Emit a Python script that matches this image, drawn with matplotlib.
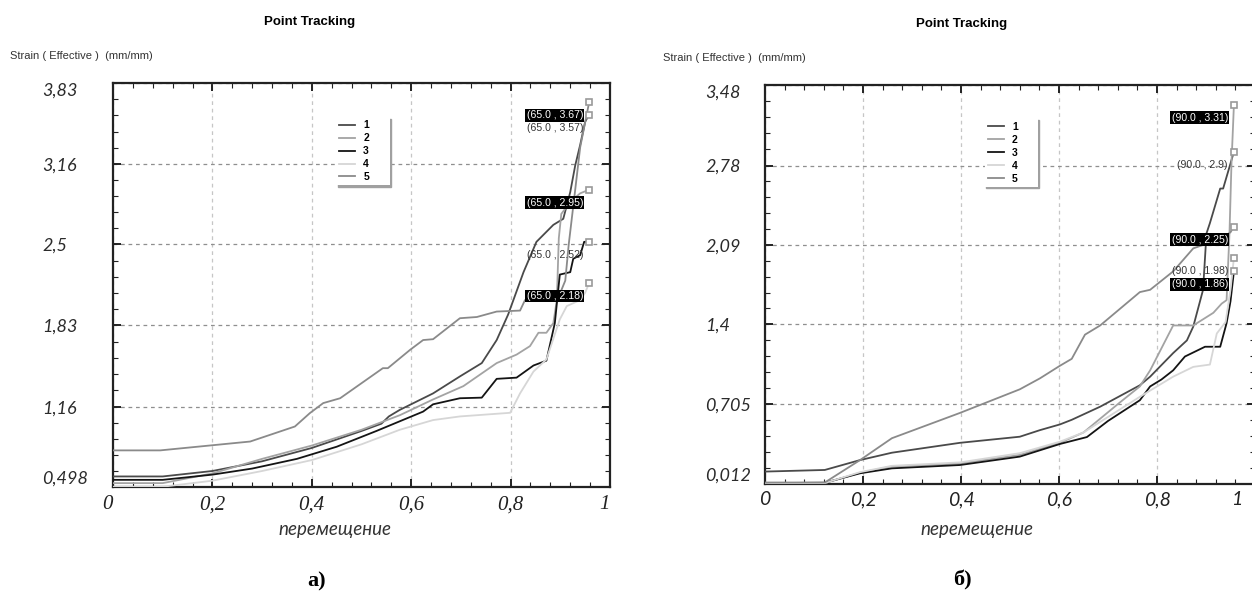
import matplotlib
matplotlib.use("Agg")
import matplotlib.pyplot as plt
import numpy as np

# shared axis labels
SERIES = ["1", "2", "3", "4", "5"]
COLORS = ["#4a4a4a", "#a3a3a3", "#141414", "#d6d6d6", "#8a8a8a"]
X_TICKS = [0, 0.2, 0.4, 0.6, 0.8, 1.0]
X_LABELS = ["0", "0,2", "0,4", "0,6", "0,8", "1"]

# panel а)
A_END = "65.0"
A_YTICKS = [0.498, 1.16, 1.83, 2.5, 3.16, 3.83]
A_YLABELS = ["0,498", "1,16", "1,83", "2,5", "3,16", "3,83"]
a1_x = [0, 0.10, 0.20, 0.30, 0.40, 0.50, 0.54, 0.555, 0.577, 0.644, 0.698, 0.742, 0.772,
        0.795, 0.826, 0.852, 0.886, 0.906, 0.92, 0.93, 0.94, 0.95, 0.958]
a1_y = [0.585, 0.585, 0.63, 0.71, 0.82, 0.96, 1.02, 1.08, 1.134, 1.27, 1.41, 1.52, 1.71,
        1.92, 2.27, 2.52, 2.66, 2.71, 2.93, 3.15, 3.32, 3.51, 3.57]
a2_x = [0, 0.10, 0.20, 0.30, 0.40, 0.50, 0.577, 0.644, 0.705, 0.772, 0.812, 0.839, 0.856,
        0.872, 0.886, 0.893, 0.897, 0.902, 0.92, 0.94, 0.958]
a2_y = [0.53, 0.53, 0.61, 0.73, 0.84, 0.97, 1.09, 1.22, 1.33, 1.52, 1.59, 1.66, 1.77,
        1.77, 1.85, 2.04, 2.55, 2.75, 2.85, 2.92, 2.95]
a3_x = [0, 0.10, 0.20, 0.28, 0.37, 0.45, 0.53, 0.577, 0.624, 0.644, 0.698, 0.742, 0.772,
        0.812, 0.846, 0.872, 0.889, 0.899, 0.92, 0.926, 0.94, 0.948, 0.958]
a3_y = [0.557, 0.557, 0.60, 0.65, 0.73, 0.83, 0.96, 1.04, 1.12, 1.18, 1.23, 1.235, 1.39,
        1.40, 1.50, 1.54, 1.85, 2.25, 2.27, 2.38, 2.41, 2.52, 2.52]
a4_x = [0, 0.10, 0.20, 0.30, 0.40, 0.50, 0.577, 0.644, 0.698, 0.799, 0.819, 0.846, 0.872,
        0.899, 0.913, 0.94, 0.95, 0.958]
a4_y = [0.50, 0.50, 0.55, 0.63, 0.72, 0.85, 0.97, 1.05, 1.08, 1.11, 1.27, 1.45, 1.55,
        1.88, 1.99, 2.04, 2.10, 2.18]
a5_x = [0, 0.095, 0.276, 0.366, 0.396, 0.423, 0.457, 0.543, 0.553, 0.598, 0.624, 0.644,
        0.698, 0.732, 0.772, 0.819, 0.829, 0.86, 0.90, 0.91, 0.917, 0.93, 0.94, 0.958]
a5_y = [0.80, 0.80, 0.873, 0.997, 1.107, 1.19, 1.23, 1.478, 1.478, 1.63, 1.71, 1.717,
        1.89, 1.90, 1.945, 1.953, 2.04, 2.07, 2.10, 2.20, 2.50, 2.95, 3.30, 3.67]

# panel б)
B_END = "90.0"
B_YTICKS = [0.012, 0.705, 1.4, 2.09, 2.78, 3.48]
B_YLABELS = ["0,012", "0,705", "1,4", "2,09", "2,78", "3,48"]
b1_x = [0, 0.122, 0.194, 0.259, 0.398, 0.52, 0.561, 0.602, 0.626, 0.684, 0.765, 0.786,
        0.833, 0.861, 0.874, 0.894, 0.901, 0.908, 0.929, 0.935, 0.957]
b1_y = [0.12, 0.134, 0.22, 0.284, 0.37, 0.423, 0.48, 0.53, 0.57, 0.684, 0.87, 0.945,
        1.15, 1.26, 1.38, 1.70, 2.19, 2.28, 2.58, 2.58, 2.90]
b2_x = [0, 0.122, 0.194, 0.259, 0.398, 0.52, 0.602, 0.65, 0.724, 0.765, 0.786, 0.833,
        0.874, 0.915, 0.932, 0.942, 0.948, 0.952, 0.957]
b2_y = [0.012, 0.02, 0.11, 0.165, 0.19, 0.265, 0.37, 0.46, 0.72, 0.86, 1.0, 1.39,
        1.39, 1.50, 1.58, 1.61, 2.2, 2.8, 3.31]
b3_x = [0, 0.122, 0.194, 0.259, 0.398, 0.52, 0.602, 0.657, 0.70, 0.765, 0.786, 0.809,
        0.833, 0.857, 0.898, 0.929, 0.942, 0.95, 0.957]
b3_y = [0.02, 0.023, 0.105, 0.148, 0.177, 0.25, 0.36, 0.42, 0.56, 0.74, 0.86, 0.92,
        1.0, 1.12, 1.205, 1.205, 1.41, 1.6, 1.86]
b4_x = [0, 0.122, 0.194, 0.259, 0.398, 0.52, 0.602, 0.65, 0.765, 0.833, 0.874, 0.908,
        0.922, 0.94, 0.95, 0.957]
b4_y = [0.012, 0.02, 0.115, 0.17, 0.20, 0.28, 0.38, 0.46, 0.77, 0.945, 1.03, 1.05,
        1.32, 1.42, 1.7, 1.98]
b5_x = [0, 0.122, 0.194, 0.259, 0.398, 0.52, 0.561, 0.602, 0.626, 0.653, 0.684, 0.765,
        0.786, 0.833, 0.874, 0.901, 0.93, 0.95, 0.957]
b5_y = [0.025, 0.025, 0.22, 0.41, 0.63, 0.835, 0.93, 1.04, 1.10, 1.31, 1.39, 1.68,
        1.70, 1.86, 2.06, 2.10, 2.14, 2.20, 2.25]

SANS_I = "Lato"


def minor_between(vals):
    out = []
    for a, b in zip(vals[:-1], vals[1:]):
        out.extend(np.linspace(a, b, 6)[1:-1])
    return out


def draw_panel(ax, xs, ys, yticks, ylabels, end_x, cfg):
    for x, y, c, lab in zip(xs, ys, COLORS, SERIES):
        ax.plot(x, y, color=c, lw=1.3, label=lab, zorder=3)
        ax.plot(x[-1], y[-1], marker="s", ms=4.8, mfc="white", mec="#9a9a9a", mew=1.2,
                ls="none", zorder=4, clip_on=False)

    # end-point labels, boxed / plain alternating from the top down
    ends = sorted(((y[-1], x[-1]) for x, y in zip(xs, ys)), reverse=True)
    for i, (yv, xv) in enumerate(ends):
        txt = f"({end_x} , {yv:g})"
        if i % 2 == 0:
            ax.annotate(txt, (xv, yv), xytext=(-6, -13), textcoords="offset pixels",
                        ha="right", va="center", fontsize=7.6, color="white",
                        family="Liberation Sans", zorder=6,
                        bbox=dict(boxstyle="square,pad=0.12", fc="black", ec="none"))
        else:
            ax.annotate(txt, (xv, yv), xytext=(-6, -13), textcoords="offset pixels",
                        ha="right", va="center", fontsize=7.6, color="#333333",
                        family="Liberation Sans", zorder=6)

    ax.set_xlim(0, 1)
    ax.set_ylim(yticks[0], yticks[-1])
    ax.set_xticks(X_TICKS)
    ax.set_xticks(minor_between(X_TICKS), minor=True)
    ax.set_yticks(yticks)
    ax.set_yticks(minor_between(yticks), minor=True)

    ax.grid(axis="y", which="major", ls=(0, (3, 3)), color="#8f8f8f", lw=0.9, zorder=1)
    ax.grid(axis="x", which="major", ls=(0, (3, 3)), color="#c6c6c6", lw=0.9, zorder=1)

    ax.tick_params(which="both", direction="in", top=True, right=True, colors="#222222")
    ax.tick_params(which="major", length=6, width=1.4)
    ax.tick_params(which="minor", length=3.5, width=0.8)
    ax.tick_params(axis="y", pad=cfg["ypad"])
    ax.tick_params(axis="x", pad=cfg["xpad"])
    for s in ax.spines.values():
        s.set_linewidth(1.6)
        s.set_color("#222222")

    ax.set_yticklabels(ylabels, family=SANS_I, style="italic", fontsize=13, color="#2b2b2b")
    ylabs = ax.get_yticklabels()
    for t in ylabs:
        t.set_ha("left")
    ylabs[0].set_va("bottom")
    ylabs[-1].set_va("top")

    xfont = dict(family=cfg["xfont"], style="italic", fontsize=cfg["xsize"], color="#222222")
    labels = list(X_LABELS)
    if cfg["last_inside"]:
        # the panel runs past the picture edge: pull the last label inside it
        labels[-1] = ""
        ax.annotate(X_LABELS[-1], (1, 0), xycoords="axes fraction", xytext=(-9, -cfg["xpad"]),
                    textcoords="offset points", ha="right", va="top", **xfont)
    ax.set_xticklabels(labels, **xfont)
    xlabs = ax.get_xticklabels()
    if cfg["first_right"]:
        xlabs[0].set_ha("right")
        xlabs[-1].set_ha("right")

    ax.set_xlabel("перемещение", family=SANS_I, style="italic", fontsize=13.5,
                  color="#333333", va="center")
    ax.xaxis.set_label_coords(cfg["xlab_x"], cfg["xlab_y"])

    ax.text(cfg["title_x"], cfg["title_y"], "Point Tracking", transform=ax.transAxes,
            ha="center", va="center", fontsize=9.5, fontweight="bold", family="Liberation Sans")
    ax.text(cfg["strain_x"], cfg["strain_y"], "Strain ( Effective )  (mm/mm)",
            transform=ax.transAxes, ha="left", va="center", fontsize=8,
            family="Liberation Sans", color="#333333")
    ax.text(cfg["cap_x"], cfg["cap_y"], cfg["caption"], transform=ax.transAxes,
            ha="center", va="center", fontsize=16, fontweight="bold", family="Liberation Serif")

    leg = ax.legend(loc="upper left", bbox_to_anchor=(0.449, 0.915, 0.108, 0.0), mode="expand",
                    handlelength=1.5, handletextpad=0.8, labelspacing=0.28,
                    borderpad=0.3, borderaxespad=0, fancybox=False, framealpha=1,
                    shadow={"color": "#a0a0a0", "alpha": 1, "ox": 1.0, "oy": -1.0},
                    prop={"family": "Liberation Sans", "weight": "bold", "size": 7.5})
    leg.get_frame().set_edgecolor("none")
    leg.get_frame().set_facecolor("white")
    leg.set_zorder(5)


fig = plt.figure(figsize=(12.52, 5.95), dpi=100)
ax_a = fig.add_axes([113 / 1252, 108 / 595, 497 / 1252, 404 / 595])
ax_b = fig.add_axes([765 / 1252, 111 / 595, 490 / 1252, 399 / 595])

draw_panel(ax_a,
           [a1_x, a2_x, a3_x, a4_x, a5_x], [a1_y, a2_y, a3_y, a4_y, a5_y],
           A_YTICKS, A_YLABELS, A_END,
           dict(ypad=51, xpad=6, xfont="Liberation Serif", xsize=15, first_right=True,
                last_inside=False, xlab_x=0.447, xlab_y=-0.106, title_x=0.396, title_y=1.15,
                strain_x=-0.207, strain_y=1.067, cap_x=0.41, cap_y=-0.233, caption="а)"))
draw_panel(ax_b,
           [b1_x, b2_x, b3_x, b4_x, b5_x], [b1_y, b2_y, b3_y, b4_y, b5_y],
           B_YTICKS, B_YLABELS, B_END,
           dict(ypad=43, xpad=5, xfont=SANS_I, xsize=14, first_right=False,
                last_inside=True, xlab_x=0.433, xlab_y=-0.115, title_x=0.402, title_y=1.153,
                strain_x=-0.208, strain_y=1.068, cap_x=0.402, cap_y=-0.243, caption="б)"))

fig.savefig("out.png", dpi=100)
